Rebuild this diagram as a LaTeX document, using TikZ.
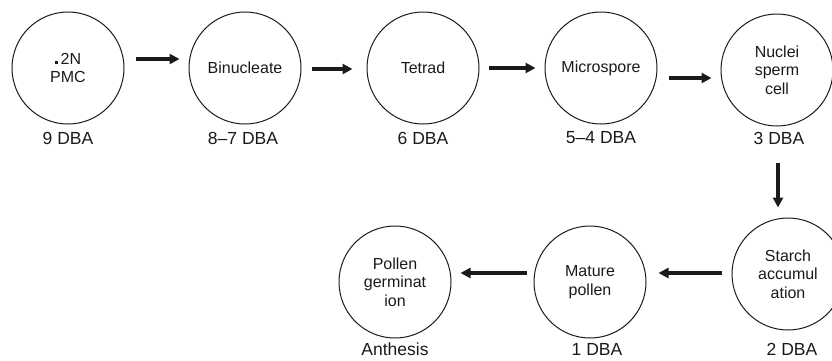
\documentclass[tikz,border=0pt]{standalone}
\usepackage{fontspec}
\setmainfont{Liberation Sans}
\usetikzlibrary{arrows.meta,calc}
\definecolor{ink}{HTML}{1A1A1A}
\tikzset{
  stage/.style={circle,draw=ink,line width=1pt,minimum size=112pt,inner sep=0pt,align=center,
    font=\fontsize{16pt}{18.5pt}\selectfont,text=ink},
  daylabel/.style={inner sep=0pt,font=\fontsize{17.5pt}{20pt}\selectfont,text=ink},
  flow/.style={draw=ink,line width=4pt,-{Triangle[length=10pt,width=10pt]}}
}
\begin{document}
\begin{tikzpicture}[x=1pt,y=-1pt]
\useasboundingbox (0,0) rectangle (832,360);
\node[stage] (c1) at (68,68) {\rule{3pt}{3pt}\,2N\\PMC};
\node[stage] (c2) at (245,68) {Binucleate};
\node[stage] (c3) at (423,68) {Tetrad};
\node[stage] (c4) at (601,68) {Microspore};
\node[stage] (c5) at (777,70) {Nuclei\\sperm\\cell};
\node[stage] (c6) at (788,274) {Starch\\accumul\\ation};
\node[stage] (c7) at (590,282) {Mature\\pollen};
\node[stage] (c8) at (395,282) {Pollen\\germinat\\ion};
\node[daylabel] (l1) at (68,138) {9 DBA};
\node[daylabel] (l2) at (243,138) {8–7 DBA};
\node[daylabel] (l3) at (423,138) {6 DBA};
\node[daylabel] (l4) at (601,138) {5–4 DBA};
\node[daylabel] (l5) at (779,138) {3 DBA};
\node[daylabel] (l6) at (792,349) {2 DBA};
\node[daylabel] (l7) at (597,349) {1 DBA};
\node[daylabel] (l8) at (395,349) {Anthesis};
\draw[flow] ($(c1.east)+(11,-9)$) -- ($(c2.west)+(-9,-9)$);
\draw[flow] ($(c2.east)+(10,1)$) -- ($(c3.west)+(-14,1)$);
\draw[flow] ($(c3.east)+(9,0)$) -- ($(c4.west)+(-9,0)$);
\draw[flow] ($(c4.east)+(11,10)$) -- ($(c5.west)+(-9,8)$);
\draw[flow] ($(c5.south)+(1,36)$) -- ($(c5.south |- c6.north)+(1,-10)$);
\draw[flow] ($(c6.west)+(-10,-1)$) -- ($(c7.east)+(12,-9)$);
\draw[flow] ($(c7.west)+(-7,-9)$) -- ($(c8.east)+(9,-9)$);
\end{tikzpicture}
\end{document}
